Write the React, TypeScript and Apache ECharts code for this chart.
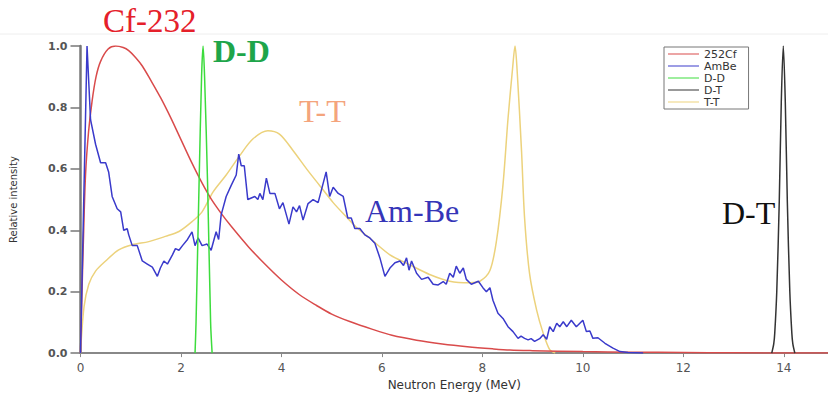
import React, { useEffect, useRef } from "react";
import * as echarts from "echarts";

// Neutron energy (MeV) vs relative intensity
const cf252: number[][] = [
  [0, 0], [0.03, 0.2], [0.06, 0.38], [0.1, 0.58], [0.16, 0.72], [0.23, 0.82], [0.31, 0.9],
  [0.4, 0.95], [0.55, 0.99], [0.7, 1.0], [0.85, 0.995], [0.96, 0.985], [1.1, 0.962],
  [1.23, 0.935], [1.4, 0.888], [1.6, 0.83], [1.8, 0.765], [2.0, 0.695], [2.2, 0.625],
  [2.4, 0.56], [2.6, 0.502], [2.8, 0.455], [3.0, 0.413], [3.35, 0.345],
  [3.7, 0.285], [4.0, 0.238], [4.36, 0.19], [4.7, 0.155], [5.0, 0.127], [5.36, 0.103],
  [5.8, 0.078], [6.2, 0.058], [6.69, 0.042], [7.2, 0.03], [7.7, 0.021], [8.2, 0.014],
  [8.55, 0.01], [9, 0.008], [10, 0.005], [11, 0.003], [12, 0.002], [13, 0.001], [15, 0],
];

const amBe: number[][] = [
  [0, 0], [0.13, 1.0], [0.2, 0.76], [0.3, 0.68], [0.4, 0.62], [0.5, 0.62], [0.56, 0.59],
  [0.63, 0.51], [0.73, 0.47], [0.8, 0.46], [0.86, 0.4], [0.93, 0.405], [0.96, 0.385],
  [1.03, 0.35], [1.13, 0.35], [1.23, 0.3], [1.33, 0.29], [1.43, 0.28], [1.53, 0.25],
  [1.59, 0.277], [1.66, 0.3], [1.73, 0.29], [1.83, 0.32], [1.89, 0.34], [1.96, 0.335],
  [2.03, 0.35], [2.13, 0.37], [2.22, 0.395], [2.28, 0.35], [2.34, 0.375], [2.42, 0.35],
  [2.52, 0.355], [2.6, 0.335], [2.7, 0.395], [2.75, 0.37], [2.8, 0.45], [2.9, 0.51],
  [3.0, 0.546], [3.1, 0.58], [3.15, 0.648], [3.2, 0.61], [3.26, 0.61], [3.33, 0.5],
  [3.47, 0.51], [3.53, 0.5], [3.57, 0.52], [3.63, 0.5], [3.7, 0.57], [3.77, 0.52],
  [3.87, 0.52], [3.96, 0.47], [4.03, 0.49], [4.15, 0.42], [4.23, 0.476], [4.3, 0.46],
  [4.36, 0.48], [4.43, 0.433], [4.53, 0.487], [4.63, 0.5], [4.73, 0.49], [4.89, 0.59],
  [4.96, 0.51], [5.03, 0.54], [5.13, 0.52], [5.23, 0.51], [5.32, 0.44], [5.39, 0.44],
  [5.46, 0.406], [5.56, 0.406], [5.66, 0.385], [5.76, 0.375], [5.86, 0.358], [5.96, 0.31],
  [6.06, 0.25], [6.16, 0.277], [6.26, 0.294], [6.36, 0.3], [6.43, 0.285], [6.49, 0.31],
  [6.54, 0.27], [6.59, 0.3], [6.69, 0.26], [6.79, 0.24], [6.92, 0.247], [7.02, 0.224],
  [7.12, 0.222], [7.22, 0.233], [7.28, 0.224], [7.35, 0.26], [7.42, 0.247], [7.48, 0.283],
  [7.55, 0.26], [7.62, 0.277], [7.68, 0.24], [7.78, 0.224], [7.92, 0.234], [8.01, 0.213],
  [8.08, 0.2], [8.15, 0.213], [8.21, 0.172], [8.31, 0.13], [8.41, 0.113], [8.51, 0.086],
  [8.61, 0.07], [8.71, 0.048], [8.77, 0.055], [8.84, 0.048], [8.91, 0.043], [8.97, 0.047],
  [9.04, 0.038], [9.14, 0.047], [9.21, 0.06], [9.28, 0.045], [9.34, 0.086], [9.41, 0.07],
  [9.48, 0.097], [9.54, 0.086], [9.61, 0.102], [9.68, 0.086], [9.77, 0.107], [9.87, 0.086],
  [10.0, 0.107], [10.07, 0.07], [10.14, 0.072], [10.2, 0.048], [10.3, 0.05], [10.44, 0.032],
  [10.6, 0.016], [10.74, 0.005], [10.9, 0.002], [11.2, 0],
];

const dd: number[][] = [
  [2.28, 0], [2.3, 0.1], [2.36, 0.55], [2.41, 0.9], [2.44, 1.0], [2.47, 0.9], [2.53, 0.55],
  [2.59, 0.1], [2.62, 0],
];

const dt: number[][] = [
  [13.76, 0], [13.8, 0.03], [13.82, 0.065], [13.86, 0.2], [13.91, 0.495], [13.95, 0.817],
  [13.99, 1.0], [14.03, 0.817], [14.07, 0.495], [14.12, 0.2], [14.16, 0.065], [14.18, 0.03],
  [14.22, 0],
];

const tt: number[][] = [
  [0, 0], [0.07, 0.15], [0.165, 0.224], [0.3, 0.267], [0.5, 0.3], [0.76, 0.336], [1.03, 0.353],
  [1.36, 0.363], [1.69, 0.38], [1.96, 0.396], [2.22, 0.428], [2.42, 0.46], [2.64, 0.525],
  [2.9, 0.58], [3.17, 0.643], [3.43, 0.697], [3.73, 0.724], [3.96, 0.713], [4.23, 0.66],
  [4.5, 0.6], [4.76, 0.546], [5.03, 0.49], [5.29, 0.444], [5.49, 0.41], [5.76, 0.374],
  [6.16, 0.32], [6.55, 0.288], [6.95, 0.256], [7.35, 0.234], [7.75, 0.229], [7.95, 0.234],
  [8.15, 0.269], [8.28, 0.365], [8.41, 0.548], [8.51, 0.763], [8.6, 0.925], [8.65, 1.0],
  [8.69, 0.925], [8.78, 0.656], [8.84, 0.44], [8.94, 0.258], [9.08, 0.14], [9.21, 0.065],
  [9.34, 0.011], [9.45, 0],
];

const seriesNames = ["252Cf", "AmBe", "D-D", "D-T", "T-T"];
const seriesColors = ["#d94b4b", "#3a3acb", "#3ddc3d", "#333333", "#ecd27c"];
const yTicks = { min: 0, max: 1, interval: 0.2 };
const xTicks = { min: 0, max: 14.88, interval: 2 };

export default function App() {
  const ref = useRef<HTMLDivElement>(null);
  useEffect(() => {
    if (!ref.current) return;
    const chart = echarts.init(ref.current, null, { renderer: "svg" });
    const datasets = [cf252, amBe, dd, dt, tt];
    const smooths = [0.3, false, 0.3, 0.3, 0.3];
    const sans = "DejaVu Sans";
    const serif = "Liberation Serif";
    chart.setOption({
      animation: false,
      backgroundColor: "#ffffff",
      grid: { left: 80.5, right: 0, top: 46, bottom: 38, containLabel: false },
      legend: {
        data: seriesNames,
        orient: "vertical",
        left: 664,
        top: 47,
        padding: [1, 12, 1, 4],
        itemGap: 0,
        itemWidth: 31,
        itemHeight: 1,
        icon: "rect",
        borderColor: "#777",
        borderWidth: 1,
        backgroundColor: "#fff",
        textStyle: { fontFamily: sans, fontSize: 11, color: "#333", lineHeight: 12, padding: [0, 0, 0, 0] },
      },
      xAxis: {
        type: "value",
        min: xTicks.min,
        max: xTicks.max,
        interval: xTicks.interval,
        name: "Neutron Energy (MeV)",
        nameLocation: "middle",
        nameGap: 25,
        nameTextStyle: { fontFamily: sans, fontSize: 12, color: "#333" },
        axisLine: { lineStyle: { color: "#888", width: 2 } },
        axisTick: { show: true, length: 4, lineStyle: { color: "#888" } },
        axisLabel: { fontFamily: sans, fontSize: 12, color: "#555", margin: 9, showMaxLabel: false },
        splitLine: { show: false },
      },
      yAxis: {
        type: "value",
        min: yTicks.min,
        max: yTicks.max,
        interval: yTicks.interval,
        name: "Relative intensity",
        nameLocation: "middle",
        nameGap: 62,
        nameTextStyle: { fontFamily: sans, fontSize: 10, color: "#333" },
        axisLine: { lineStyle: { color: "#777", width: 2.5 } },
        axisTick: { show: true, length: 10, lineStyle: { color: "#777", width: 1.5 } },
        axisLabel: {
          fontFamily: sans,
          fontSize: 11,
          fontWeight: "bold",
          color: "#555",
          margin: 13,
          formatter: (v: number) => v.toFixed(1),
        },
        splitLine: { show: false },
      },
      series: seriesNames.map((name, i) => ({
        name,
        type: "line",
        data: datasets[i],
        showSymbol: false,
        symbol: "none",
        smooth: smooths[i],
        clip: true,
        z: i === 4 ? 1 : 2 + i,
        lineStyle: { color: seriesColors[i], width: 1.5 },
        itemStyle: { color: seriesColors[i] },
      })),
      graphic: [
        { type: "line", shape: { x1: 0, y1: 34, x2: 828, y2: 34 }, style: { stroke: "#eeeeee", lineWidth: 1 }, silent: true },
        { type: "text", x: 103, y: 21, style: { text: "Cf-232", font: `33px "${serif}"`, fill: "#e5202a", textAlign: "left", textVerticalAlign: "middle" } },
        { type: "text", x: 213, y: 51, style: { text: "D-D", font: `bold 32px "${serif}"`, fill: "#1ea54a", textAlign: "left", textVerticalAlign: "middle" } },
        { type: "text", x: 299, y: 111, style: { text: "T-T", font: `32px "${serif}"`, fill: "#f4a47c", textAlign: "left", textVerticalAlign: "middle" } },
        { type: "text", x: 365, y: 211, style: { text: "Am-Be", font: `32px "${serif}"`, fill: "#3535b8", textAlign: "left", textVerticalAlign: "middle" } },
        { type: "text", x: 722, y: 213, style: { text: "D-T", font: `32px "${serif}"`, fill: "#111111", textAlign: "left", textVerticalAlign: "middle" } },
      ],
    });
    return () => chart.dispose();
  }, []);
  return (
    <div
      ref={ref}
      style={{ position: "fixed", left: 0, top: 0, width: 828, height: 396, background: "#fff" }}
    />
  );
}
